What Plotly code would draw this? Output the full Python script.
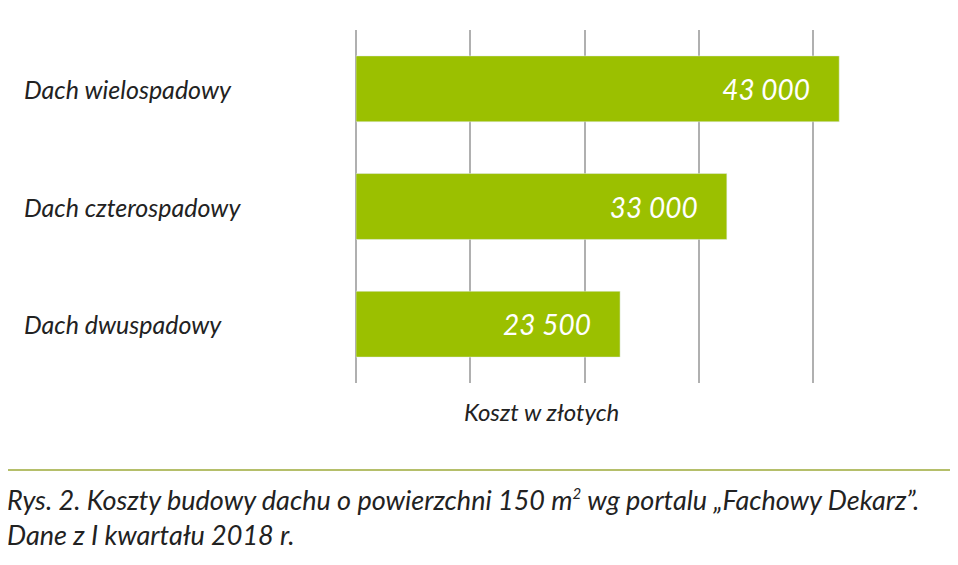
import plotly.graph_objects as go

categories = ["Dach dwuspadowy", "Dach czterospadowy", "Dach wielospadowy"]
values = [23500, 33000, 43000]
value_labels = ["23 500", "33 000", "43 000"]

font = "Lato"
fig = go.Figure(go.Bar(
    y=categories, x=values, orientation="h",
    marker_color="#9bc000",
    text=[t + "    " for t in value_labels],
    textposition="inside", insidetextanchor="end",
    textfont=dict(family=font, size=28, color="white", style="italic"),
    hoverinfo="skip",
))

fig.update_layout(
    width=958, height=565,
    margin=dict(l=348, r=38, t=22, b=190),
    plot_bgcolor="white", paper_bgcolor="white",
    bargap=0.44, showlegend=False,
    xaxis=dict(range=[0, 50900], tickvals=[10170, 20340, 30510, 40680, 50850],
               showticklabels=False,
               showgrid=True, gridcolor="#b0b0b0", gridwidth=2, zeroline=True,
               zerolinecolor="#b0b0b0", zerolinewidth=2, fixedrange=True),
    yaxis=dict(range=[-0.5, 2.5], showticklabels=False, showgrid=False,
               fixedrange=True),
)

for c in categories:
    fig.add_annotation(x=(22 - 356) / 572, xref="paper", y=c, yref="y",
                       text=c, showarrow=False, xanchor="left",
                       font=dict(family=font, size=25, color="#222", style="italic"))

fig.add_annotation(x=(541 - 356) / 572, xref="paper", y=-45 / 353, yref="paper",
                   text="Koszt w złotych", showarrow=False, xanchor="center",
                   font=dict(family=font, size=24, color="#222", style="italic"))

fig.add_shape(type="line", xref="paper", yref="paper",
              x0=(5 - 356) / 572, x1=(955 - 356) / 572,
              y0=-87 / 353, y1=-87 / 353,
              line=dict(color="#b5bf6a", width=2))

fig.add_annotation(x=(5 - 356) / 572, xref="paper", y=-98 / 353, yref="paper",
                   text="Rys. 2. Koszty budowy dachu o powierzchni 150 m<sup><span style='font-size:15px'>2</span></sup> wg portalu „Fachowy Dekarz”.<br>Dane z I kwartału 2018 r.",
                   showarrow=False, xanchor="left", yanchor="top", align="left",
                   font=dict(family=font, size=27, color="#222", style="italic"))

fig.write_html("out.html")
